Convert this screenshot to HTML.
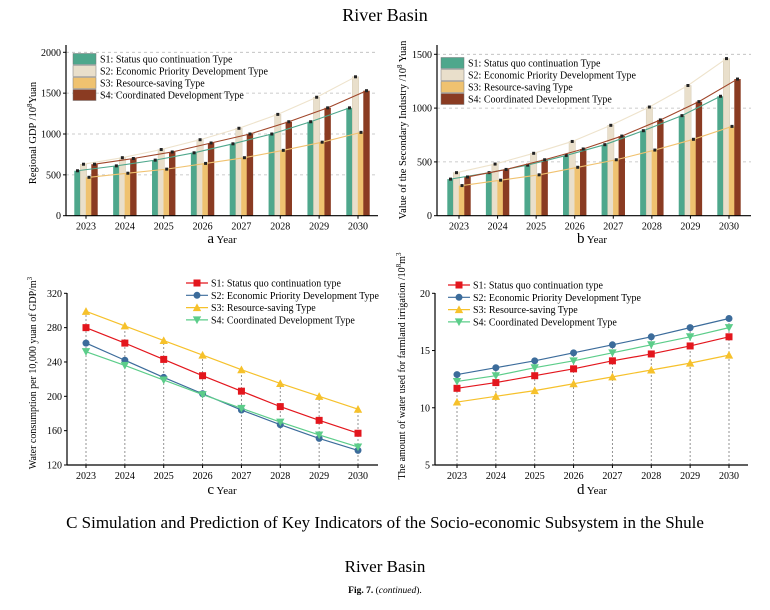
<!DOCTYPE html>
<html><head><meta charset="utf-8">
<style>
html,body{margin:0;padding:0;background:#fff;}
body{width:770px;height:610px;overflow:hidden;font-family:"Liberation Serif",serif;}
svg{position:absolute;left:0;top:0;}
</style></head>
<body>
<svg id="fig" width="770" height="610" viewBox="0 0 770 610" font-family="Liberation Serif, serif">
<text x="385" y="21" text-anchor="middle" font-size="18">River Basin</text>
<text x="385" y="528" text-anchor="middle" font-size="17">C Simulation and Prediction of Key Indicators of the Socio-economic Subsystem in the Shule</text>
<text x="385" y="572" text-anchor="middle" font-size="17">River Basin</text>
<text x="385" y="593" text-anchor="middle" font-size="9.5"><tspan font-weight="bold">Fig. 7.</tspan> (<tspan font-style="italic">continued</tspan>).</text>
</svg>
<script>
const years=["2023","2024","2025","2026","2027","2028","2029","2030"];
const aS1=[550,610,680,770,880,1000,1150,1320];
const aS2=[630,710,810,930,1070,1240,1450,1700];
const aS3=[470,520,570,640,710,800,900,1020];
const aS4=[630,700,780,890,1000,1150,1320,1530];
const aTicks=[0,500,1000,1500,2000];
const bS1=[340,400,470,560,660,790,930,1110];
const bS2=[400,480,580,690,840,1010,1210,1460];
const bS3=[280,330,380,450,520,610,710,830];
const bS4=[360,430,520,620,740,890,1060,1270];
const bTicks=[0,500,1000,1500];
const cS1=[280,262,243,224,206,188,172,157];
const cS2=[262,242,222,203,184,167,151,137];
const cS3=[299,282,265,248,231,215,200,185];
const cS4=[252,236,219,202,186,170,155,141];
const cTicks=[120,160,200,240,280,320];
const dS1=[11.7,12.2,12.8,13.4,14.1,14.7,15.4,16.2];
const dS2=[12.9,13.5,14.1,14.8,15.5,16.2,17.0,17.8];
const dS3=[10.5,11.0,11.5,12.1,12.7,13.3,13.9,14.6];
const dS4=[12.3,12.8,13.5,14.1,14.8,15.5,16.2,17.0];
const dTicks=[5,10,15,20];

const NS="http://www.w3.org/2000/svg";
const svg=document.getElementById('fig');
function mk(tag,attrs,parent){const e=document.createElementNS(NS,tag);for(const k in attrs)e.setAttribute(k,attrs[k]);(parent||svg).appendChild(e);return e;}

function panel(cfg){
  const g=mk('g',{});
  
  
  const xs=i=>cfg.x0+(cfg.x1-cfg.x0)*i/7;
  const ys=v=>cfg.yb+(cfg.yt-cfg.yb)*(v-cfg.vmin)/(cfg.vmax-cfg.vmin);
  // grid / ticks
  cfg.ticks.forEach(t=>{
    const y=ys(t);
    if(cfg.grid&&t>cfg.vmin){const l=mk('line',{x1:cfg.ax,x2:cfg.axEnd,y1:y,y2:y,stroke:'#bbb','stroke-width':0.8,'stroke-dasharray':'3,3'},g);
      }
    mk('line',{x1:cfg.ax-3,x2:cfg.ax,y1:y,y2:y,stroke:'#000','stroke-width':1},g);
    const tx=mk('text',{x:cfg.ax-5,y:y+3.5,'text-anchor':'end','font-size':10},g);
    tx.textContent=t;
    
  });
  years.forEach((yr,i)=>{
    const x=xs(i);
    mk('line',{x1:x,x2:x,y1:cfg.yb,y2:cfg.yb+3,stroke:'#000','stroke-width':1},g);
    const tx=mk('text',{x:x,y:cfg.yb+14,'text-anchor':'middle','font-size':10},g);
    tx.textContent=yr;
    
  });
  return {g,xs,ys};
}

function axes(g,cfg){
  const ya=mk('line',{x1:cfg.ax,x2:cfg.ax,y1:cfg.yb,y2:cfg.axTop,stroke:'#000','stroke-width':1.2},g);
  
  const xa=mk('line',{x1:cfg.ax,x2:cfg.axEnd,y1:cfg.yb,y2:cfg.yb,stroke:'#000','stroke-width':1.2},g);
  
  const xl=mk('text',{x:cfg.xlx,y:cfg.xly,'text-anchor':'middle','font-size':11},g);
  xl.innerHTML='<tspan font-size="15">'+cfg.letter+'</tspan> Year';
  
  const yl=mk('text',{x:0,y:0,'text-anchor':'middle','font-size':cfg.ylfs||10.5,transform:'translate('+cfg.ylx+','+cfg.yly+') rotate(-90)'},g);
  yl.innerHTML=cfg.ylabel;
  
}

const barFill=['#4ea78c','#e9dfcb','#efc270','#8a3b22'];
const barLine=['#4ea78c','#eee3cc','#f0c270','#a0462a'];
const barNames=['S1: Status quo continuation Type','S2: Economic Priority Development Type','S3: Resource-saving Type','S4: Coordinated Development Type'];
const offs=[-8.5,-2.5,3,8.5];

function barChart(cfg,series){
  const {g,xs,ys}=panel(cfg);
  series.forEach((s,k)=>{
    s.forEach((v,i)=>{
      const x=xs(i)+offs[k];
      const r=mk('rect',{x:x-3.2,y:ys(v),width:6.4,height:cfg.yb-ys(v),fill:barFill[k],stroke:k==1?'#cfc2aa':'none','stroke-width':0.4},g);
      
      
    });
  });
  series.forEach((s,k)=>{
    const pts=s.map((v,i)=>(xs(i)+offs[k])+','+ys(v)).join(' ');
    const pl=mk('polyline',{points:pts,fill:'none',stroke:barLine[k],'stroke-width':1.1},g);
    
    s.forEach((v,i)=>{
      const d=mk('rect',{x:xs(i)+offs[k]-1.5,y:ys(v)-1.5,width:3,height:3,fill:'#222'},g);
      
    });
  });
  axes(g,cfg);
  barNames.forEach((n,k)=>{
    const y=cfg.legY+k*12;
    const lg=mk('g',{},g);
    
    mk('rect',{x:cfg.legX,y:y-5.5,width:23,height:11,fill:barFill[k],stroke:'#777','stroke-width':0.5},lg);
    const t=mk('text',{x:cfg.legX+27,y:y+3.5,'font-size':10},lg);t.textContent=n;
  });
}

const lineCol=['#e3161d','#3c6c9b','#f6c12b','#5ccd8a'];
const lineNames=['S1: Status quo continuation type','S2: Economic Priority Development Type','S3: Resource-saving Type','S4: Coordinated Development Type'];
function marker(g,k,x,y,sz){
  let e;
  if(k==0)e=mk('rect',{x:x-sz,y:y-sz,width:2*sz,height:2*sz,fill:lineCol[0]},g);
  else if(k==1)e=mk('circle',{cx:x,cy:y,r:sz,fill:lineCol[1]},g);
  else if(k==2)e=mk('polygon',{points:(x)+','+(y-sz*1.2)+' '+(x-sz*1.2)+','+(y+sz)+' '+(x+sz*1.2)+','+(y+sz),fill:lineCol[2]},g);
  else e=mk('polygon',{points:(x)+','+(y+sz*1.2)+' '+(x-sz*1.2)+','+(y-sz)+' '+(x+sz*1.2)+','+(y-sz),fill:lineCol[3]},g);
  return e;
}
function lineChart(cfg,series){
  const {g,xs,ys}=panel(cfg);
  years.forEach((yr,i)=>{
    const top=Math.max(...series.map(s=>s[i]));
    const l=mk('line',{x1:xs(i),x2:xs(i),y1:cfg.yb,y2:ys(top),stroke:'#888','stroke-width':0.9,'stroke-dasharray':'2,2'},g);
    
  });
  series.forEach((s,k)=>{
    const pts=s.map((v,i)=>xs(i)+','+ys(v)).join(' ');
    const pl=mk('polyline',{points:pts,fill:'none',stroke:lineCol[k],'stroke-width':1.2},g);
    
    s.forEach((v,i)=>{
      const m=marker(g,k,xs(i),ys(v),3.5);
      
      
    });
  });
  axes(g,cfg);
  lineNames.forEach((n,k)=>{
    const y=cfg.legY+k*12.3;
    const lg=mk('g',{},g);
    
    mk('line',{x1:cfg.legX,x2:cfg.legX+22,y1:y,y2:y,stroke:lineCol[k],'stroke-width':1.2},lg);
    marker(lg,k,cfg.legX+11,y,3.5);
    const t=mk('text',{x:cfg.legX+25,y:y+3.5,'font-size':10},lg);t.textContent=n;
  });
}

barChart({name:'chart-a-regional-gdp',x0:86,x1:358,ax:66,axEnd:378,axTop:45,yb:215.7,yt:52.3,vmin:0,vmax:2000,ticks:aTicks,grid:true,
  letter:'a',xlx:222,xly:243,ylx:36,yly:133,ylabel:'Regional GDP /10<tspan font-size="7" dy="-4">8</tspan><tspan dy="4">Yuan</tspan>',legX:73,legY:59},[aS1,aS2,aS3,aS4]);
barChart({name:'chart-b-secondary-industry',x0:459,x1:729,ax:437,axEnd:751,axTop:45,yb:215.7,yt:54.3,vmin:0,vmax:1500,ticks:bTicks,grid:true,
  letter:'b',xlx:592,xly:243,ylx:406,yly:130,ylabel:'Value of the Secondary Industry /10<tspan font-size="7" dy="-4">8</tspan><tspan dy="4"> Yuan</tspan>',legX:441,legY:63},[bS1,bS2,bS3,bS4]);
lineChart({name:'chart-c-water-per-gdp',x0:86,x1:358,ax:67,axEnd:378,axTop:293,yb:465,yt:293.3,vmin:120,vmax:320,ticks:cTicks,grid:false,
  letter:'c',xlx:222,xly:494,ylx:36,yly:373,ylfs:10,ylabel:'Water consumption per 10,000 yuan of GDP/m<tspan font-size="7" dy="-4">3</tspan>',legX:186,legY:283},[cS1,cS2,cS3,cS4]);
lineChart({name:'chart-d-irrigation-water',x0:457,x1:729,ax:435,axEnd:748,axTop:293,yb:465,yt:293.3,vmin:5,vmax:20,ticks:dTicks,grid:false,
  letter:'d',xlx:592,xly:494,ylx:405,yly:366,ylfs:10,ylabel:'The amount of water used for farmland irrigation /10<tspan font-size="7" dy="-4">8</tspan><tspan dy="4">m</tspan><tspan font-size="7" dy="-4">3</tspan>',legX:448,legY:285},[dS1,dS2,dS3,dS4]);
</script>
</body></html>
